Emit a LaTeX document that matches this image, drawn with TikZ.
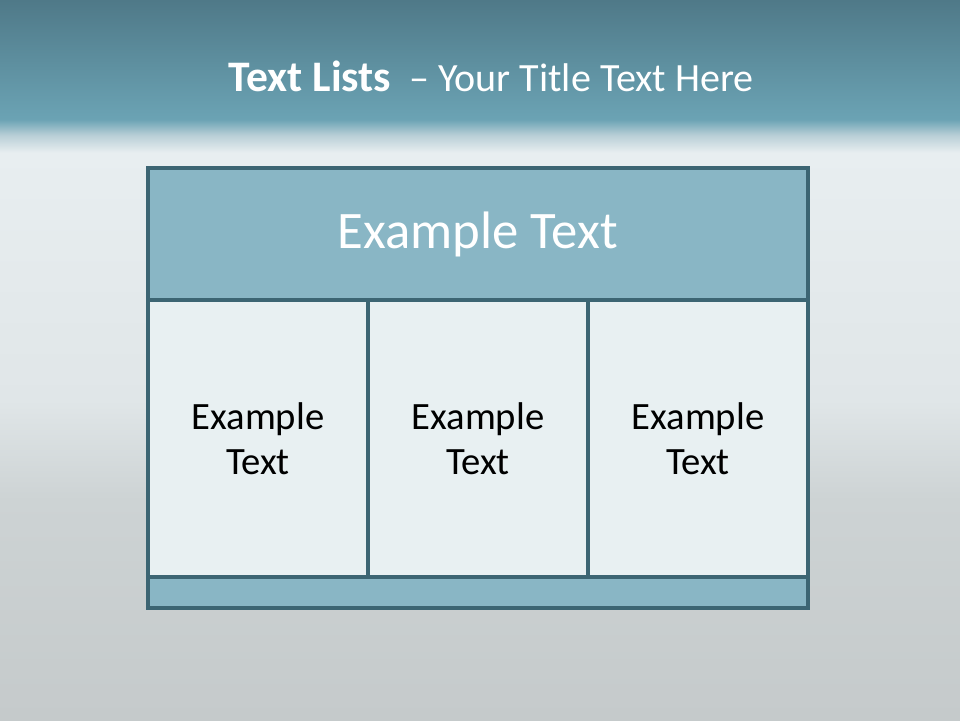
\documentclass[tikz,border=0pt]{standalone}
\usepackage{fontspec}
\setmainfont{Carlito}
\usepackage{tikz}
\usepackage{xcolor}
\usetikzlibrary{positioning}

\definecolor{frameline}{HTML}{3C6573}
\definecolor{headfill}{HTML}{89B6C5}
\definecolor{cellfill}{HTML}{E8F0F2}
\definecolor{bgA}{HTML}{C5CACB}
\definecolor{bgB}{HTML}{CDD3D4}
\definecolor{bgC}{HTML}{E0E6E8}
\definecolor{bgD}{HTML}{E8EEF0}
\definecolor{bgE}{HTML}{B9CFD7}
\definecolor{bgF}{HTML}{6BA3B4}
\definecolor{bgG}{HTML}{4F7988}
\pgfdeclareverticalshading{slidebg}{100bp}{color(0bp)=(bgA); color(25bp)=(bgA); color(40.3bp)=(bgB); color(47.2bp)=(bgC); color(64.4bp)=(bgD); color(65.6bp)=(bgE); color(66.7bp)=(bgF); color(75bp)=(bgG); color(100bp)=(bgG)}

\begin{document}
\begin{tikzpicture}[
    node distance=0pt,
    head/.style={draw=frameline, line width=2.6pt, fill=headfill, outer sep=0pt, minimum width=16.5cm, minimum height=3.3cm, text=white, font=\fontsize{37.5}{42}\selectfont},
    cell/.style={draw=frameline, line width=2.6pt, fill=cellfill, outer sep=0pt, minimum width=5.5cm, minimum height=6.925cm, align=center, font=\fontsize{27.5}{32}\selectfont},
    foot/.style={draw=frameline, line width=2.6pt, fill=headfill, outer sep=0pt, minimum width=16.5cm, minimum height=0.775cm},
    title/.style={text=white, font=\fontsize{28.5}{32}\selectfont}
]
\useasboundingbox (0,0) rectangle (24,18);
\shade[shading=slidebg] (0,0) rectangle (24,18);
\node[title] (title) at (12.28,16.1) {\textbf{\fontsize{31}{32}\selectfont Text Lists}\hspace{0.22em} – Your Title Text Here};
\node[head, anchor=north west] (header) at (3.7,13.8) {Example Text};
\node[cell, below right=0pt and 0pt of header.south west] (colA) {Example\\Text};
\node[cell, right=of colA] (colB) {Example\\Text};
\node[cell, right=of colB] (colC) {Example\\Text};
\node[foot, below right=0pt and 0pt of colA.south west] (footer) {};
\end{tikzpicture}
\end{document}
